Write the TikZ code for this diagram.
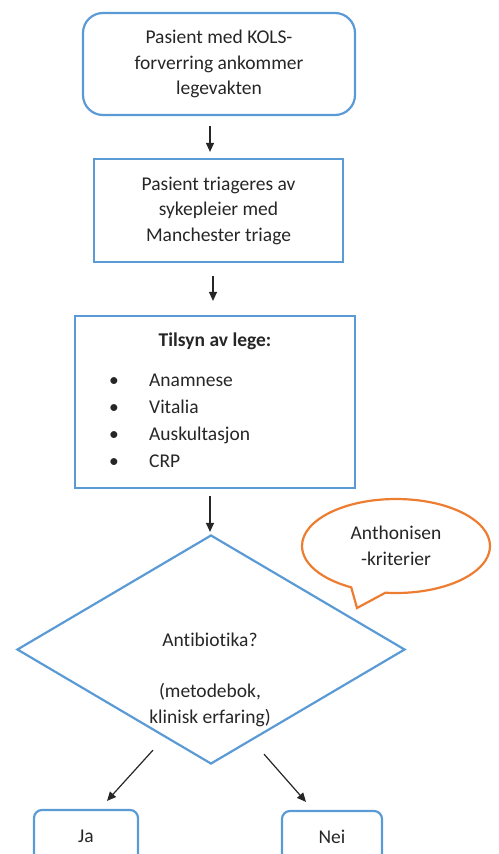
\documentclass[tikz,border=0pt]{standalone}
\usepackage{fontspec}
\setmainfont[Ligatures=NoCommon]{Carlito}
\usetikzlibrary{arrows.meta,shapes.geometric,shapes.callouts,calc}
\definecolor{boxblue}{HTML}{5B9BD5}
\definecolor{calloutorange}{HTML}{ED7D31}
\begin{document}
\begin{tikzpicture}[x=1pt,y=-1pt,
  every node/.style={font=\fontsize{19.5}{25.5}\selectfont, text=black!85},
  bluebox/.style={draw=boxblue, line width=2.2pt, align=center, inner sep=0pt},
  arr/.style={-{Triangle[width=8pt,length=9pt]}, line width=1.2pt, black!85},
  txt/.style={inner sep=0pt}]
\useasboundingbox (0,0) rectangle (498,854);
% box 1
\node[bluebox, rounded corners=20pt, minimum width=272pt, minimum height=102pt] (b1) at (219,64)
  {Pasient med KOLS-\\forverring ankommer\\legevakten};
% box 2
\node[bluebox, minimum width=249pt, minimum height=103pt] (b2) at (218.5,210.5)
  {Pasient triageres av\\sykepleier med\\Manchester triage};
% box 3
\node[bluebox, minimum width=280pt, minimum height=172pt] (b3) at (215,402) {};
\node[txt, font=\fontsize{19.5}{25.5}\selectfont\bfseries] (t3) at (215,341) {Tilsyn av lege:};
\node[txt, anchor=mid] (p1) at (114,384) {•};
\node[txt, anchor=mid] (p2) at (114,411) {•};
\node[txt, anchor=mid] (p3) at (114,438) {•};
\node[txt, anchor=mid] (p4) at (114,465) {•};
\node[txt, anchor=mid west] (i1) at (149,384) {Anamnese};
\node[txt, anchor=mid west] (i2) at (149,411) {Vitalia};
\node[txt, anchor=mid west] (i3) at (149,438) {Auskultasjon};
\node[txt, anchor=mid west] (i4) at (149,465) {CRP};
% diamond
\node[draw=boxblue, line width=2.2pt, diamond, inner sep=0pt, minimum width=388pt, minimum height=229pt] (d) at (211,649.5) {};
\node[txt, align=center] (dt) at (210,680) {Antibiotika?\\[25.5pt](metodebok,\\klinisk erfaring)};
% callout
\node[ellipse callout, draw=calloutorange, line width=2.2pt, fill=white, minimum width=188pt, minimum height=94pt,
  callout absolute pointer={(357,608)}, callout pointer arc=22, align=center, inner sep=0pt] (c) at (396,546)
  {Anthonisen\\-kriterier};
% bottom boxes
\node[bluebox, rounded corners=8pt, minimum width=104pt, minimum height=52pt] (ja) at (86,836) {Ja};
\node[bluebox, rounded corners=8pt, minimum width=100pt, minimum height=52pt] (nei) at (332,837) {Nei};
% arrows
\draw[arr] ([xshift=-9pt,yshift=-10pt]b1.south) -- ([xshift=-8.5pt,yshift=6pt]b2.north);
\draw[arr] ([xshift=-5.5pt,yshift=-13pt]b2.south) -- ([xshift=-2pt,yshift=14pt]b3.north);
\draw[arr] ([xshift=-5pt,yshift=-7pt]b3.south) -- ([xshift=-1pt,yshift=2pt]d.north);
\draw[arr] ([xshift=-58pt,yshift=15pt]d.south) -- ([xshift=21pt,yshift=8pt]ja.north);
\draw[arr] ([xshift=53pt,yshift=11pt]d.south) -- ([xshift=-26pt,yshift=8pt]nei.north);
\end{tikzpicture}
\end{document}
